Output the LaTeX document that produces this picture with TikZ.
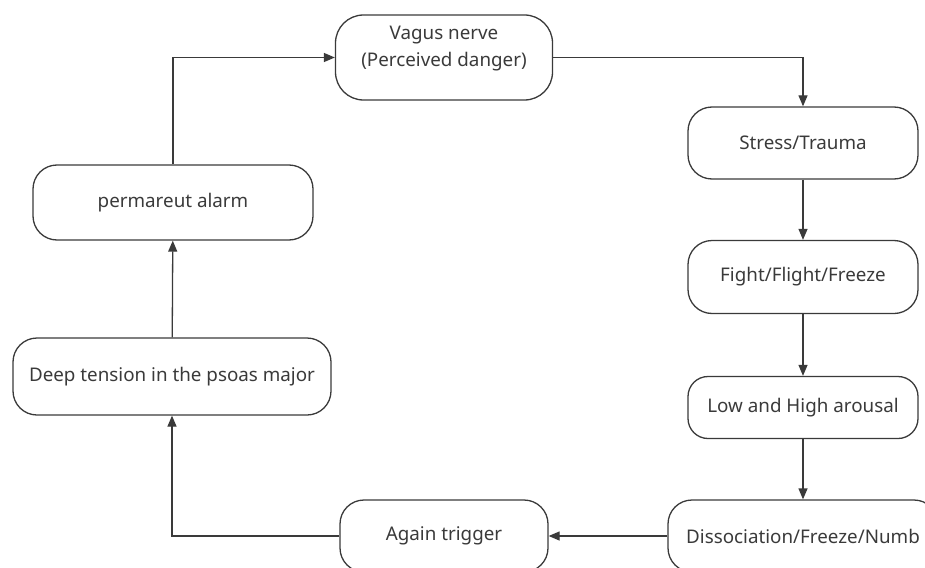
\documentclass[tikz,border=0pt]{standalone}
\usepackage{fontspec}
\setmainfont{Noto Sans}
\usetikzlibrary{arrows.meta}
\definecolor{linegray}{HTML}{3A3A3A}
\tikzstyle{stage} = [rectangle, rounded corners=24pt, draw=linegray, line width=1.3pt, text=linegray, minimum width=230pt, minimum height=72pt, text centered, font=\fontsize{18.8}{27}\selectfont]
\tikzstyle{arrow} = [line width=1.3pt, draw=linegray, ->, >={Triangle[length=11pt,width=9pt]}]

\begin{document}
\begin{tikzpicture}[x=1pt, y=-1pt]
            \useasboundingbox (0,0) rectangle (925,567);
            \node [stage, minimum width=217pt, minimum height=85pt, rounded corners=28pt, align=center, text depth=22pt] at (444,57.5) (vagus) {Vagus nerve\\(Perceived danger)};
            \node [stage] at (803,143) (stress) {Stress/Trauma};
            \node [stage, minimum height=73pt] at (803,277) (fight) {Fight/Flight/Freeze};
            \node [stage, minimum height=62pt, rounded corners=20pt] at (803,407.5) (arousal) {Low and High arousal};
            \node [stage, minimum width=270pt] at (803,536) (dissoc) {Dissociation/Freeze/Numb};
            \node [stage, minimum width=208pt] at (444,536) (again) {Again trigger};
            \node [stage, minimum width=318pt, minimum height=77pt] at (172,376.5) (tension) {Deep tension in the psoas major};
            \node [stage, minimum width=280pt, minimum height=75pt] at (173,202.5) (alarm) {permareut alarm};
            \draw [arrow] (vagus) -| (stress);
            \draw [arrow] (stress) -- (fight);
            \draw [arrow] (fight) -- (arousal);
            \draw [arrow] (arousal) -- (dissoc);
            \draw [arrow] (dissoc) -- (again);
            \draw [arrow] (again) -| (tension);
            \draw [arrow] (tension) -- (alarm);
            \draw [arrow] (alarm) |- (vagus);
            \end{tikzpicture}
\end{document}
